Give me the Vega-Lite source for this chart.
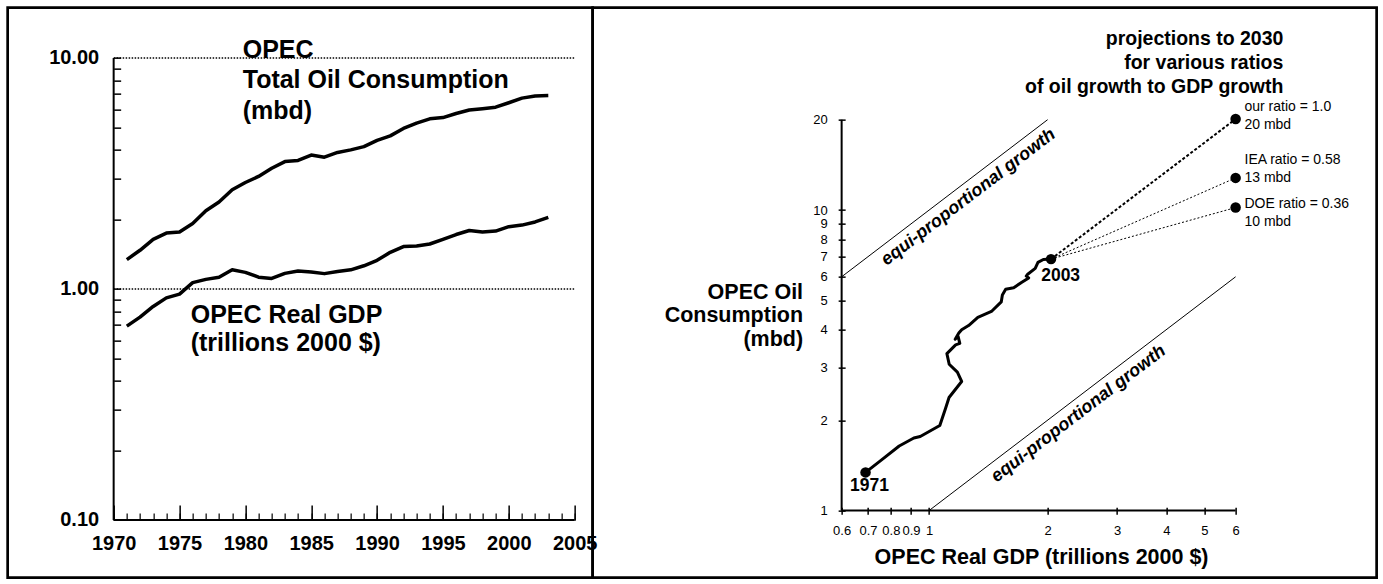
{
  "$schema": "https://vega.github.io/schema/vega-lite/v6.json",
  "padding": {"left": 5.65, "top": 5.65, "right": 5, "bottom": 5},
  "spacing": 0,
  "bounds": "flush",
  "config": {
    "view": {"stroke": "black", "strokeWidth": 2.7},
    "font": "Liberation Sans",
    "axis": {"labelColor": "black", "tickColor": "black", "labelFont": "Liberation Sans", "domain": false, "grid": false, "labelFlush": false, "labelOverlap": false},
    "text": {"font": "Liberation Sans", "color": "black"}
  },
  "datasets": {
    "opec": [
      {"year": 1971, "gdp": 0.69, "oil": 1.34},
      {"year": 1972, "gdp": 0.755, "oil": 1.47},
      {"year": 1973, "gdp": 0.84, "oil": 1.64},
      {"year": 1974, "gdp": 0.915, "oil": 1.745},
      {"year": 1975, "gdp": 0.95, "oil": 1.765},
      {"year": 1976, "gdp": 1.065, "oil": 1.92},
      {"year": 1977, "gdp": 1.1, "oil": 2.18},
      {"year": 1978, "gdp": 1.124, "oil": 2.38},
      {"year": 1979, "gdp": 1.21, "oil": 2.69},
      {"year": 1980, "gdp": 1.18, "oil": 2.89},
      {"year": 1981, "gdp": 1.125, "oil": 3.07},
      {"year": 1982, "gdp": 1.11, "oil": 3.33},
      {"year": 1983, "gdp": 1.168, "oil": 3.56},
      {"year": 1984, "gdp": 1.197, "oil": 3.6},
      {"year": 1985, "gdp": 1.185, "oil": 3.8},
      {"year": 1986, "gdp": 1.165, "oil": 3.72},
      {"year": 1987, "gdp": 1.19, "oil": 3.9},
      {"year": 1988, "gdp": 1.21, "oil": 4.0},
      {"year": 1989, "gdp": 1.26, "oil": 4.13},
      {"year": 1990, "gdp": 1.33, "oil": 4.4},
      {"year": 1991, "gdp": 1.44, "oil": 4.6},
      {"year": 1992, "gdp": 1.525, "oil": 4.95},
      {"year": 1993, "gdp": 1.535, "oil": 5.22},
      {"year": 1994, "gdp": 1.565, "oil": 5.45},
      {"year": 1995, "gdp": 1.64, "oil": 5.52},
      {"year": 1996, "gdp": 1.72, "oil": 5.75},
      {"year": 1997, "gdp": 1.79, "oil": 5.95},
      {"year": 1998, "gdp": 1.765, "oil": 6.03},
      {"year": 1999, "gdp": 1.78, "oil": 6.12},
      {"year": 2000, "gdp": 1.86, "oil": 6.4},
      {"year": 2001, "gdp": 1.89, "oil": 6.7},
      {"year": 2002, "gdp": 1.95, "oil": 6.85},
      {"year": 2003, "gdp": 2.04, "oil": 6.87}
    ],
    "proj": [
      {"scenario": "our", "year": 2003, "gdp": 2.04, "oil": 6.87},
      {"scenario": "our", "year": 2030, "gdp": 6, "oil": 20.1},
      {"scenario": "IEA", "year": 2003, "gdp": 2.04, "oil": 6.87},
      {"scenario": "IEA", "year": 2030, "gdp": 6, "oil": 12.8},
      {"scenario": "DOE", "year": 2003, "gdp": 2.04, "oil": 6.87},
      {"scenario": "DOE", "year": 2030, "gdp": 6, "oil": 10.2}
    ],
    "leftNotes": [
      {"kind": "oil", "text": "OPEC\nTotal Oil Consumption\n(mbd)", "x": 1979.8, "y": 12.25},
      {"kind": "gdp", "text": "OPEC Real GDP\n(trillions 2000 $)", "x": 1975.85, "y": 0.873}
    ],
    "rightNotes": [
      {"kind": "head", "text": "projections to 2030\nfor various ratios\nof oil growth to GDP growth", "x": 7.93, "y": 39.8},
      {"kind": "proj", "text": "our ratio = 1.0\n20 mbd", "x": 6.32, "y": 23.34},
      {"kind": "proj", "text": "IEA ratio = 0.58\n13 mbd", "x": 6.32, "y": 15.51},
      {"kind": "proj", "text": "DOE ratio = 0.36\n10 mbd", "x": 6.32, "y": 11.07},
      {"kind": "year", "text": "2003", "x": 2.158, "y": 6.02},
      {"kind": "year", "text": "1971", "x": 0.706, "y": 1.206},
      {"kind": "equi", "text": "equi-proportional growth", "x": 1.259, "y": 11.03},
      {"kind": "equi", "text": "equi-proportional growth", "x": 2.397, "y": 2.098},
      {"kind": "ytitle", "text": "OPEC Oil\nConsumption\n(mbd)", "x": 0.479, "y": 5.77},
      {"kind": "xtitle", "text": "OPEC Real GDP (trillions 2000 $)", "x": 1.93, "y": 0.757}
    ]
  },
  "hconcat": [
    {
      "width": 585,
      "height": 570,
      "resolve": {"axis": {"x": "independent", "y": "independent"}},
      "layer": [
        {
          "data": {"values": [{"x": 1970, "x2": 2005, "y": 10, "y2": 10}, {"x": 1970, "x2": 2005, "y": 1, "y2": 1}]},
          "mark": {"type": "rule", "stroke": "black", "strokeWidth": 1.5, "strokeDash": [1.5, 1.5]},
          "encoding": {
            "x": {"field": "x", "type": "quantitative", "scale": {"type": "linear", "domain": [1961.952, 2006.367], "nice": false, "zero": false}, "axis": null},
            "x2": {"field": "x2"},
            "y": {"field": "y", "type": "quantitative", "scale": {"type": "log", "domain": [0.05627, 16.51], "nice": false}, "axis": null},
            "y2": {"field": "y2"}
          }
        },
        {
          "data": {"values": [{"x": 1970, "x2": 1970, "y": 0.1, "y2": 10}, {"x": 1970, "x2": 2005, "y": 0.1, "y2": 0.1}]},
          "mark": {"type": "rule", "stroke": "black", "strokeWidth": 2},
          "encoding": {
            "x": {"field": "x", "type": "quantitative", "scale": {"type": "linear", "domain": [1961.952, 2006.367], "nice": false, "zero": false}, "axis": null},
            "x2": {"field": "x2"},
            "y": {"field": "y", "type": "quantitative", "scale": {"type": "log", "domain": [0.05627, 16.51], "nice": false}, "axis": null},
            "y2": {"field": "y2"}
          }
        },
        {
          "data": {"name": "opec"},
          "mark": {"type": "line", "color": "black", "strokeWidth": 3.5, "strokeJoin": "round"},
          "encoding": {
            "x": {"field": "year", "type": "quantitative", "scale": {"type": "linear", "domain": [1961.952, 2006.367], "nice": false, "zero": false},
              "axis": {"orient": "bottom", "offset": -72.7, "values": [1970, 1975, 1980, 1985, 1990, 1995, 2000, 2005], "format": "d", "tickSize": 15, "tickWidth": 1.5, "labelFontSize": 20, "labelFontWeight": "bold", "labelPadding": 14, "title": null}},
            "y": {"field": "oil", "type": "quantitative", "scale": {"type": "log", "domain": [0.05627, 16.51], "nice": false},
              "axis": {"orient": "left", "offset": -113, "values": [0.1, 0.2, 0.3, 0.4, 0.5, 0.6, 0.7, 0.8, 0.9, 1, 2, 3, 4, 5, 6, 7, 8, 9, 10], "tickSize": 7, "tickWidth": 1.5, "labelExpr": "(datum.value == 0.1 || datum.value == 1 || datum.value == 10) ? format(datum.value, '.2f') : ''", "labelFontSize": 20, "labelFontWeight": "bold", "labelPadding": 15, "title": null}}
          }
        },
        {
          "data": {"name": "opec"},
          "mark": {"type": "line", "color": "black", "strokeWidth": 3.5, "strokeJoin": "round"},
          "encoding": {
            "x": {"field": "year", "type": "quantitative", "scale": {"type": "linear", "domain": [1961.952, 2006.367], "nice": false, "zero": false},
              "axis": {"orient": "bottom", "offset": -64.7, "values": [1970, 1971, 1972, 1973, 1974, 1975, 1976, 1977, 1978, 1979, 1980, 1981, 1982, 1983, 1984, 1985, 1986, 1987, 1988, 1989, 1990, 1991, 1992, 1993, 1994, 1995, 1996, 1997, 1998, 1999, 2000, 2001, 2002, 2003, 2004, 2005], "tickSize": 7, "tickWidth": 1.2, "labels": false, "title": null}},
            "y": {"field": "gdp", "type": "quantitative", "scale": {"type": "log", "domain": [0.05627, 16.51], "nice": false}, "axis": null}
          }
        },
        {
          "data": {"name": "leftNotes"},
          "transform": [{"filter": "datum.kind == 'oil'"}],
          "mark": {"type": "text", "align": "left", "baseline": "top", "fontSize": 25, "fontWeight": "bold", "lineBreak": "\n", "lineHeight": 30.7},
          "encoding": {
            "x": {"field": "x", "type": "quantitative", "scale": {"type": "linear", "domain": [1961.952, 2006.367], "nice": false, "zero": false}, "axis": null},
            "y": {"field": "y", "type": "quantitative", "scale": {"type": "log", "domain": [0.05627, 16.51], "nice": false}, "axis": null},
            "text": {"field": "text"}
          }
        },
        {
          "data": {"name": "leftNotes"},
          "transform": [{"filter": "datum.kind == 'gdp'"}],
          "mark": {"type": "text", "align": "left", "baseline": "top", "fontSize": 25, "fontWeight": "bold", "lineBreak": "\n", "lineHeight": 28},
          "encoding": {
            "x": {"field": "x", "type": "quantitative", "scale": {"type": "linear", "domain": [1961.952, 2006.367], "nice": false, "zero": false}, "axis": null},
            "y": {"field": "y", "type": "quantitative", "scale": {"type": "log", "domain": [0.05627, 16.51], "nice": false}, "axis": null},
            "text": {"field": "text"}
          }
        }
      ]
    },
    {
      "width": 784,
      "height": 570,
      "resolve": {"axis": {"x": "independent", "y": "independent"}},
      "layer": [
        {
          "data": {"values": [{"x": 0.6, "x2": 0.6, "y": 1, "y2": 20}, {"x": 0.6, "x2": 6, "y": 1, "y2": 1}]},
          "mark": {"type": "rule", "stroke": "black", "strokeWidth": 2},
          "encoding": {
            "x": {"field": "x", "type": "quantitative", "scale": {"type": "log", "domain": [0.14001, 13.68], "nice": false},
              "axis": {"orient": "bottom", "offset": -70.5, "values": [0.6, 0.7, 0.8, 0.9, 1, 2, 3, 4, 5, 6], "format": "~g", "tickSize": 7, "tickWidth": 1.5, "labelFontSize": 13, "labelPadding": 10.5, "title": null}},
            "x2": {"field": "x2"},
            "y": {"field": "y", "type": "quantitative", "scale": {"type": "log", "domain": [0.5983, 47.19], "nice": false},
              "axis": {"orient": "left", "offset": -252.5, "values": [1, 2, 3, 4, 5, 6, 7, 8, 9, 10, 20], "format": "~g", "tickSize": 7, "tickWidth": 1.5, "labelFontSize": 13, "labelPadding": 11, "title": null}},
            "y2": {"field": "y2"}
          }
        },
        {
          "data": {"values": [{"x": 0.6, "x2": 2, "y": 6, "y2": 20}, {"x": 1, "x2": 6, "y": 1, "y2": 6}]},
          "mark": {"type": "rule", "stroke": "black", "strokeWidth": 1},
          "encoding": {
            "x": {"field": "x", "type": "quantitative", "scale": {"type": "log", "domain": [0.14001, 13.68], "nice": false}, "axis": null},
            "x2": {"field": "x2"},
            "y": {"field": "y", "type": "quantitative", "scale": {"type": "log", "domain": [0.5983, 47.19], "nice": false}, "axis": null},
            "y2": {"field": "y2"}
          }
        },
        {
          "data": {"name": "proj"},
          "transform": [{"filter": "datum.scenario == 'our'"}],
          "mark": {"type": "line", "color": "black", "strokeWidth": 2, "strokeDash": [3, 2]},
          "encoding": {
            "x": {"field": "gdp", "type": "quantitative", "scale": {"type": "log", "domain": [0.14001, 13.68], "nice": false}, "axis": null},
            "y": {"field": "oil", "type": "quantitative", "scale": {"type": "log", "domain": [0.5983, 47.19], "nice": false}, "axis": null},
            "order": {"field": "year"}
          }
        },
        {
          "data": {"name": "proj"},
          "transform": [{"filter": "datum.scenario != 'our'"}],
          "mark": {"type": "line", "color": "black", "strokeWidth": 1, "strokeDash": [2, 2]},
          "encoding": {
            "x": {"field": "gdp", "type": "quantitative", "scale": {"type": "log", "domain": [0.14001, 13.68], "nice": false}, "axis": null},
            "y": {"field": "oil", "type": "quantitative", "scale": {"type": "log", "domain": [0.5983, 47.19], "nice": false}, "axis": null},
            "detail": {"field": "scenario"},
            "order": {"field": "year"}
          }
        },
        {
          "data": {"name": "opec"},
          "mark": {"type": "line", "color": "black", "strokeWidth": 3, "strokeJoin": "round"},
          "encoding": {
            "x": {"field": "gdp", "type": "quantitative", "scale": {"type": "log", "domain": [0.14001, 13.68], "nice": false}, "axis": null},
            "y": {"field": "oil", "type": "quantitative", "scale": {"type": "log", "domain": [0.5983, 47.19], "nice": false}, "axis": null},
            "order": {"field": "year"}
          }
        },
        {
          "data": {"name": "opec"},
          "transform": [{"filter": "datum.year == 1971 || datum.year == 2003"}],
          "mark": {"type": "point", "filled": true, "color": "black", "size": 110, "opacity": 1},
          "encoding": {
            "x": {"field": "gdp", "type": "quantitative", "scale": {"type": "log", "domain": [0.14001, 13.68], "nice": false}, "axis": null},
            "y": {"field": "oil", "type": "quantitative", "scale": {"type": "log", "domain": [0.5983, 47.19], "nice": false}, "axis": null}
          }
        },
        {
          "data": {"name": "proj"},
          "transform": [{"filter": "datum.year == 2030"}],
          "mark": {"type": "point", "filled": true, "color": "black", "size": 110, "opacity": 1},
          "encoding": {
            "x": {"field": "gdp", "type": "quantitative", "scale": {"type": "log", "domain": [0.14001, 13.68], "nice": false}, "axis": null},
            "y": {"field": "oil", "type": "quantitative", "scale": {"type": "log", "domain": [0.5983, 47.19], "nice": false}, "axis": null}
          }
        },
        {
          "data": {"name": "rightNotes"},
          "transform": [{"filter": "datum.kind == 'head'"}],
          "mark": {"type": "text", "align": "right", "baseline": "top", "fontSize": 19.5, "fontWeight": "bold", "lineBreak": "\n", "lineHeight": 24.2},
          "encoding": {
            "x": {"field": "x", "type": "quantitative", "scale": {"type": "log", "domain": [0.14001, 13.68], "nice": false}, "axis": null},
            "y": {"field": "y", "type": "quantitative", "scale": {"type": "log", "domain": [0.5983, 47.19], "nice": false}, "axis": null},
            "text": {"field": "text"}
          }
        },
        {
          "data": {"name": "rightNotes"},
          "transform": [{"filter": "datum.kind == 'proj'"}],
          "mark": {"type": "text", "align": "left", "baseline": "top", "fontSize": 14, "lineBreak": "\n", "lineHeight": 18.4},
          "encoding": {
            "x": {"field": "x", "type": "quantitative", "scale": {"type": "log", "domain": [0.14001, 13.68], "nice": false}, "axis": null},
            "y": {"field": "y", "type": "quantitative", "scale": {"type": "log", "domain": [0.5983, 47.19], "nice": false}, "axis": null},
            "text": {"field": "text"}
          }
        },
        {
          "data": {"name": "rightNotes"},
          "transform": [{"filter": "datum.kind == 'year'"}],
          "mark": {"type": "text", "align": "center", "baseline": "middle", "fontSize": 17.5, "fontWeight": "bold"},
          "encoding": {
            "x": {"field": "x", "type": "quantitative", "scale": {"type": "log", "domain": [0.14001, 13.68], "nice": false}, "axis": null},
            "y": {"field": "y", "type": "quantitative", "scale": {"type": "log", "domain": [0.5983, 47.19], "nice": false}, "axis": null},
            "text": {"field": "text"}
          }
        },
        {
          "data": {"name": "rightNotes"},
          "transform": [{"filter": "datum.kind == 'equi'"}],
          "mark": {"type": "text", "align": "center", "baseline": "middle", "fontSize": 18, "fontWeight": "bold", "fontStyle": "italic", "angle": -37.3},
          "encoding": {
            "x": {"field": "x", "type": "quantitative", "scale": {"type": "log", "domain": [0.14001, 13.68], "nice": false}, "axis": null},
            "y": {"field": "y", "type": "quantitative", "scale": {"type": "log", "domain": [0.5983, 47.19], "nice": false}, "axis": null},
            "text": {"field": "text"}
          }
        },
        {
          "data": {"name": "rightNotes"},
          "transform": [{"filter": "datum.kind == 'ytitle'"}],
          "mark": {"type": "text", "align": "right", "baseline": "top", "fontSize": 21.5, "fontWeight": "bold", "lineBreak": "\n", "lineHeight": 23.4},
          "encoding": {
            "x": {"field": "x", "type": "quantitative", "scale": {"type": "log", "domain": [0.14001, 13.68], "nice": false}, "axis": null},
            "y": {"field": "y", "type": "quantitative", "scale": {"type": "log", "domain": [0.5983, 47.19], "nice": false}, "axis": null},
            "text": {"field": "text"}
          }
        },
        {
          "data": {"name": "rightNotes"},
          "transform": [{"filter": "datum.kind == 'xtitle'"}],
          "mark": {"type": "text", "align": "center", "baseline": "top", "fontSize": 21.5, "fontWeight": "bold"},
          "encoding": {
            "x": {"field": "x", "type": "quantitative", "scale": {"type": "log", "domain": [0.14001, 13.68], "nice": false}, "axis": null},
            "y": {"field": "y", "type": "quantitative", "scale": {"type": "log", "domain": [0.5983, 47.19], "nice": false}, "axis": null},
            "text": {"field": "text"}
          }
        }
      ]
    }
  ]
}
